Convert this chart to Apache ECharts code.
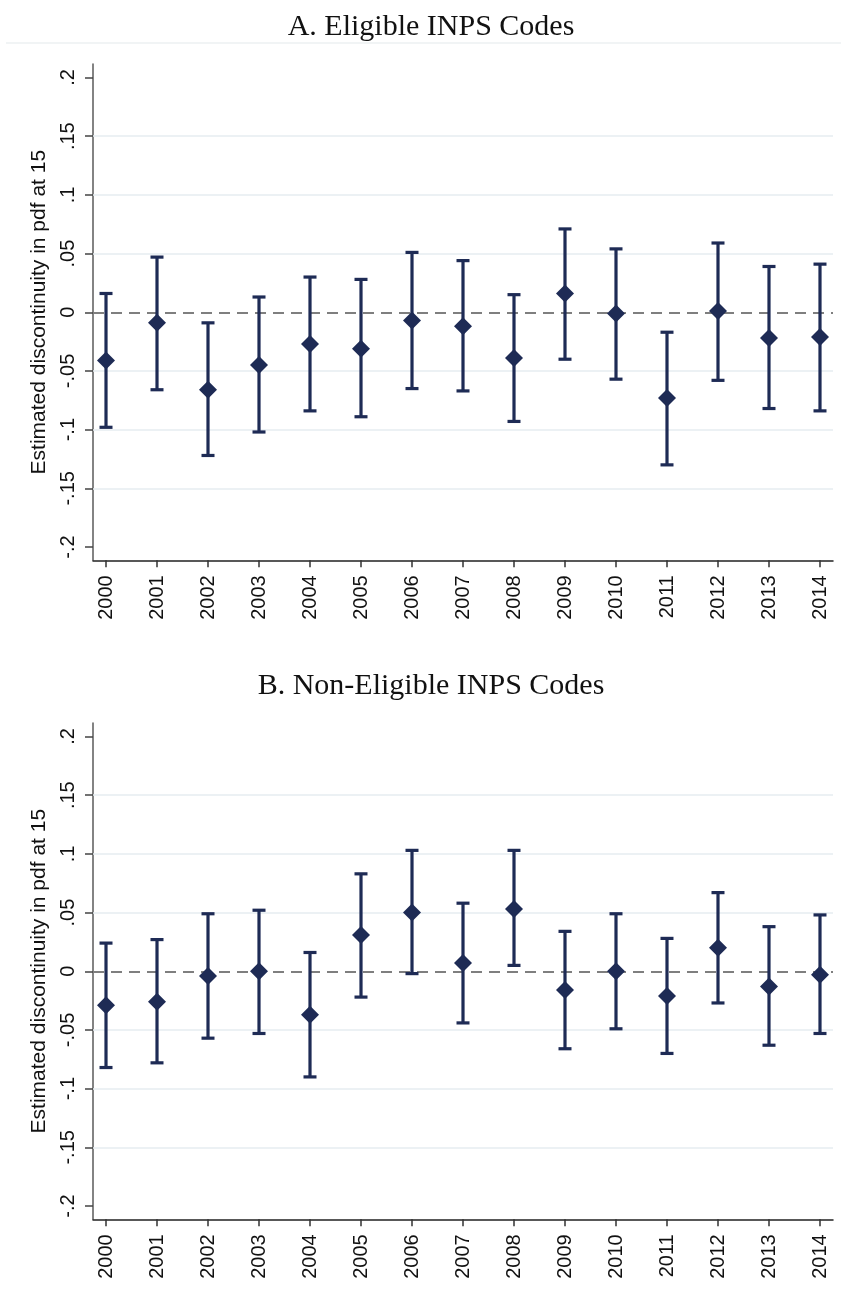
<!DOCTYPE html>
<html>
<head>
<meta charset="utf-8">
<script src="https://cdn.jsdelivr.net/npm/echarts@6/dist/echarts.min.js"></script>
<style>
html,body{margin:0;padding:0;background:#fff}
#c{width:841px;height:1309px}
</style>
</head>
<body>
<div id="c"></div>
<script>
// ---- data ----
const years = [2000,2001,2002,2003,2004,2005,2006,2007,2008,2009,2010,2011,2012,2013,2014];

// Panel A: Eligible INPS Codes
const estA  = [-0.041,-0.009,-0.066,-0.045,-0.027,-0.031,-0.007,-0.012,-0.039, 0.016,-0.001,-0.073, 0.001,-0.022,-0.021];
const lowA  = [-0.098,-0.066,-0.122,-0.102,-0.084,-0.089,-0.065,-0.067,-0.093,-0.040,-0.057,-0.130,-0.058,-0.082,-0.084];
const highA = [ 0.016, 0.047,-0.009, 0.013, 0.030, 0.028, 0.051, 0.044, 0.015, 0.071, 0.054,-0.017, 0.059, 0.039, 0.041];

// Panel B: Non-Eligible INPS Codes
const estB  = [-0.029,-0.026,-0.004, 0.000,-0.037, 0.031, 0.050, 0.007, 0.053,-0.016, 0.000,-0.021, 0.020,-0.013,-0.003];
const lowB  = [-0.082,-0.078,-0.057,-0.053,-0.090,-0.022,-0.002,-0.044, 0.005,-0.066,-0.049,-0.070,-0.027,-0.063,-0.053];
const highB = [ 0.024, 0.027, 0.049, 0.052, 0.016, 0.083, 0.103, 0.058, 0.103, 0.034, 0.049, 0.028, 0.067, 0.038, 0.048];

const yTickValues = [-0.2,-0.15,-0.1,-0.05,0,0.05,0.1,0.15,0.2];
const yTickLabels = ['-.2','-.15','-.1','-.05','0','.05','.1','.15','.2'];
const gridValues  = [-0.15,-0.1,-0.05,0.05,0.1,0.15];
const panelTitles = ['A. Eligible INPS Codes','B. Non-Eligible INPS Codes'];
const yAxisTitle  = 'Estimated discontinuity in pdf at 15';

// ---- style ----
const NAVY = '#1e2b55';
const SANS = '"Liberation Sans", Arial, sans-serif';
const SERIF = '"Liberation Serif", "Times New Roman", serif';
const PANEL_OFFSET = 659;

const panels = [
  {est: estA, low: lowA, high: highA},
  {est: estB, low: lowB, high: highB}
];

function yLabel(v){
  for (let i = 0; i < yTickValues.length; i++) {
    if (Math.abs(yTickValues[i] - v) < 1e-9) return yTickLabels[i];
  }
  return '';
}

function renderBar(params, api){
  const x = api.value(0), lo = api.value(1), hi = api.value(2);
  const p1 = api.coord([x, hi]);
  const p2 = api.coord([x, lo]);
  const hw = 6.5;
  const style = {stroke: NAVY, lineWidth: 3.2, fill: null, opacity: 1};
  return {type: 'group', children: [
    {type: 'line', shape: {x1: p1[0], y1: p1[1], x2: p2[0], y2: p2[1]}, style: style},
    {type: 'line', shape: {x1: p1[0]-hw, y1: p1[1], x2: p1[0]+hw, y2: p1[1]}, style: style},
    {type: 'line', shape: {x1: p2[0]-hw, y1: p2[1], x2: p2[0]+hw, y2: p2[1]}, style: style}
  ]};
}

const grids = [], xAxes = [], yAxes = [], series = [], graphics = [];

panels.forEach((p, i) => {
  const off = i * PANEL_OFFSET;
  grids.push({left: 93, right: 8, top: 64 + off, height: 496.3});
  xAxes.push({
    type: 'value', gridIndex: i, min: 1999.745, max: 2014.255,
    axisLine: {show: true, onZero: false, lineStyle: {color: '#222', width: 1.5}},
    axisTick: {show: true, customValues: years, length: 7, lineStyle: {color: '#333', width: 1.5}},
    axisLabel: {customValues: years, rotate: 90, margin: 15, fontSize: 20, fontFamily: SANS, color: '#111',
      formatter: v => String(v)},
    splitLine: {show: false}
  });
  yAxes.push({
    type: 'value', gridIndex: i, min: -0.2113, max: 0.2115,
    axisLine: {show: true, lineStyle: {color: '#5a5a5a', width: 1.5}},
    axisTick: {show: true, customValues: yTickValues, length: 8, lineStyle: {color: '#444', width: 1.5}},
    axisLabel: {customValues: yTickValues, rotate: 90, margin: 15, fontSize: 20, fontFamily: SANS, color: '#111',
      formatter: yLabel},
    splitLine: {show: false},
    name: yAxisTitle, nameLocation: 'middle', nameRotate: 90, nameGap: 40,
    nameTextStyle: {fontSize: 21, fontFamily: SANS, color: '#111'}
  });
  // gridlines + zero reference line (kept beneath the marks)
  series.push({
    type: 'line', xAxisIndex: i, yAxisIndex: i, data: [], z: 1, silent: true,
    markLine: {
      z: 1, silent: true, symbol: ['none','none'], label: {show: false}, animation: false,
      data: gridValues.map(v => ({yAxis: v, lineStyle: {color: '#e6edf1', width: 1.5, type: 'solid', opacity: 1}}))
        .concat([{yAxis: 0, lineStyle: {color: '#7f7f7f', width: 2, type: [11, 7], opacity: 1}}])
    }
  });
  series.push({
    type: 'custom', xAxisIndex: i, yAxisIndex: i, z: 6,
    renderItem: renderBar,
    encode: {x: 0, y: [1, 2]},
    data: years.map((y, k) => [y, p.low[k], p.high[k]])
  });
  series.push({
    type: 'scatter', xAxisIndex: i, yAxisIndex: i, z: 7,
    symbol: 'diamond', symbolSize: 18,
    itemStyle: {color: NAVY, opacity: 1},
    data: years.map((y, k) => [y, p.est[k]])
  });
  graphics.push({
    type: 'text', x: 431, y: 12 + off, silent: true,
    style: {text: panelTitles[i], font: '30px ' + SERIF, fill: '#111', align: 'center', verticalAlign: 'top'}
  });
});

graphics.push({
  type: 'line', silent: true,
  shape: {x1: 6, y1: 43, x2: 841, y2: 43},
  style: {stroke: '#edf0f2', lineWidth: 1.5}
});

const chart = echarts.init(document.getElementById('c'), null, {renderer: 'canvas'});
chart.setOption({
  animation: false,
  backgroundColor: '#fff',
  grid: grids,
  xAxis: xAxes,
  yAxis: yAxes,
  series: series,
  graphic: graphics
});
</script>
</body>
</html>
